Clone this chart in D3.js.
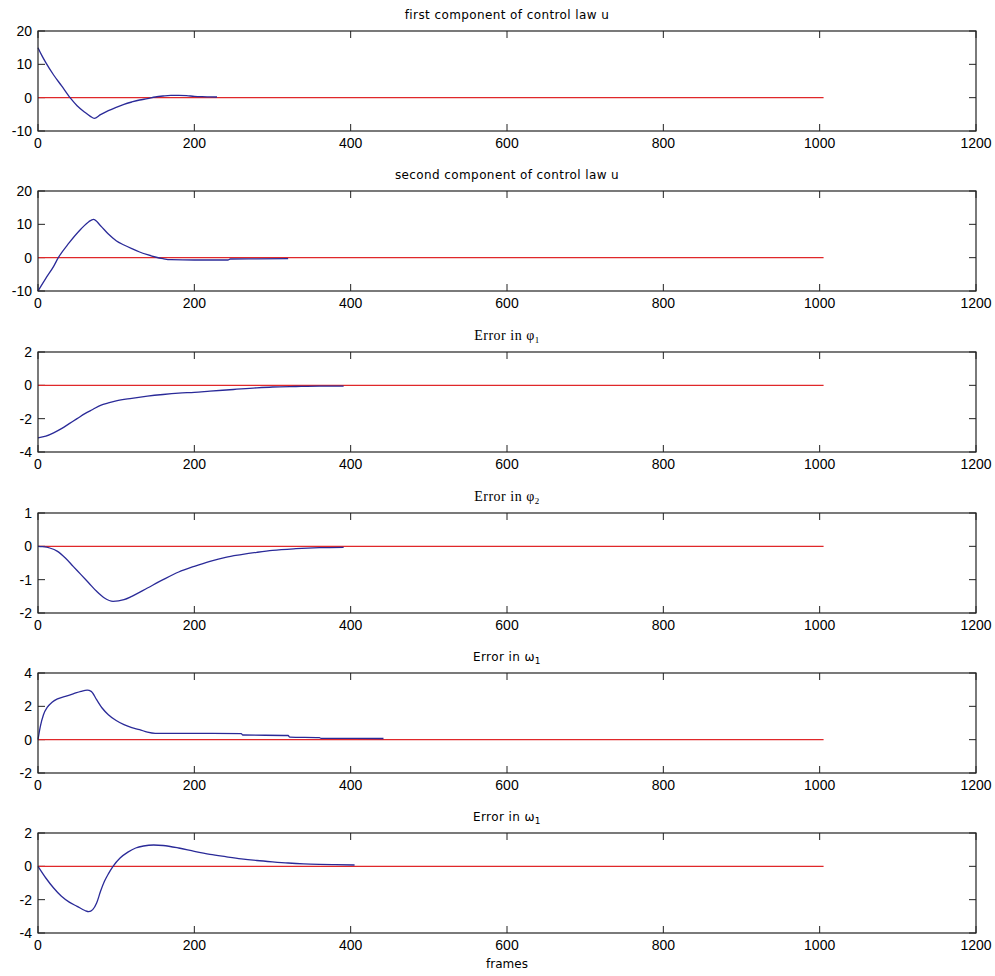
<!DOCTYPE html>
<html>
<head>
<meta charset="utf-8">
<script src="https://cdn.jsdelivr.net/npm/d3@7"></script>
<style>
  body { margin: 0; background: #fff; }
  svg text { fill: #000; }
</style>
</head>
<body>
<div id="chart"></div>
<script>
// DATA
const xTicks = [0, 200, 400, 600, 800, 1000, 1200];
const refLine = [[0, 0], [1005, 0]];

const u1 = [[0, 15], [5, 12.6], [10, 10.5], [20, 6.8], [30, 3.6], [41, 0], [50, -2.4], [60, -4.4],
  [67, -5.6], [72, -6.2], [80, -5.1], [90, -3.9], [100, -2.9], [110, -2.0], [120, -1.3], [130, -0.7],
  [140, -0.3], [150, 0.2], [160, 0.5], [170, 0.7], [180, 0.7], [190, 0.6], [200, 0.4], [210, 0.3],
  [220, 0.25], [229, 0.2]];
const u2 = [[0, -10], [10, -6.2], [20, -2.6], [26, 0], [40, 4.5], [55, 8.6], [65, 10.8], [71, 11.5],
  [80, 9.6], [90, 7.1], [100, 5.1], [110, 3.8], [120, 2.7], [130, 1.7], [140, 0.9], [150, 0.2],
  [160, -0.3], [170, -0.6], [200, -0.7], [243, -0.7], [246, -0.4], [280, -0.35], [320, -0.3]];
const phi1 = [[0, -3.15], [10, -3.05], [20, -2.85], [30, -2.6], [40, -2.3], [50, -2.0], [60, -1.7],
  [70, -1.45], [80, -1.2], [90, -1.05], [100, -0.93], [120, -0.78], [140, -0.65], [160, -0.55],
  [180, -0.47], [200, -0.42], [220, -0.35], [250, -0.25], [280, -0.15], [300, -0.1], [330, -0.07],
  [360, -0.05], [391, -0.05]];
const phi2 = [[0, 0], [5, -0.01], [15, -0.05], [25, -0.15], [35, -0.35], [45, -0.6], [55, -0.85],
  [65, -1.1], [75, -1.35], [85, -1.55], [96, -1.65], [110, -1.6], [120, -1.5], [140, -1.25],
  [160, -1.0], [180, -0.77], [200, -0.6], [220, -0.45], [240, -0.33], [260, -0.25], [280, -0.18],
  [300, -0.12], [330, -0.07], [360, -0.04], [391, -0.03]];
const omega1 = [[0, 0], [3, 0.8], [7, 1.5], [12, 1.95], [18, 2.25], [25, 2.45], [35, 2.6], [45, 2.75],
  [55, 2.9], [63, 2.97], [68, 2.9], [75, 2.4], [82, 1.9], [90, 1.5], [100, 1.15], [110, 0.9],
  [120, 0.72], [130, 0.6], [140, 0.45], [150, 0.38], [200, 0.38], [260, 0.36], [262, 0.28],
  [320, 0.25], [322, 0.15], [360, 0.12], [362, 0.08], [442, 0.07]];
const omega2 = [[0, 0], [10, -0.7], [20, -1.3], [30, -1.8], [40, -2.15], [50, -2.4], [60, -2.65],
  [65, -2.72], [70, -2.6], [75, -2.2], [80, -1.5], [85, -0.9], [90, -0.45], [96, 0], [105, 0.5],
  [115, 0.85], [125, 1.1], [135, 1.22], [148, 1.28], [160, 1.25], [180, 1.1], [200, 0.9],
  [220, 0.72], [240, 0.58], [260, 0.45], [280, 0.35], [300, 0.27], [320, 0.2], [340, 0.15],
  [360, 0.12], [380, 0.1], [405, 0.08]];

const titles = ['first component of control law u', 'second component of control law u',
  ['Error  in  φ', '1'], ['Error  in  φ', '2'], ['Error in ω', '1'], ['Error in ω', '1']];
const titleSerif = [false, false, true, true, false, false];
const series = [u1, u2, phi1, phi2, omega1, omega2];
const yDomains = [[-10, 20], [-10, 20], [-4, 2], [-2, 1], [-2, 4], [-4, 2]];
const yTicks = [[-10, 0, 10, 20], [-10, 0, 10, 20], [-4, -2, 0, 2], [-2, -1, 0, 1], [-2, 0, 2, 4], [-4, -2, 0, 2]];

// LAYOUT
const width = 995, height = 976;
const left = 38, right = 976, panelH = 100;
const tops = [31, 191, 352, 513, 673, 833];
const tickLen = 7;
const tickFont = '"Liberation Sans", Arial, sans-serif';
const sansTitle = '"DejaVu Sans", Verdana, sans-serif';
const serifTitle = '"Liberation Serif", "Times New Roman", serif';

const svg = d3.select('#chart').append('svg')
  .attr('width', width)
  .attr('height', height);

const x = d3.scaleLinear().domain([0, 1200]).range([left, right]);

series.forEach((data, i) => {
  const top = tops[i];
  const y = d3.scaleLinear().domain(yDomains[i]).range([top + panelH, top]);
  const g = svg.append('g');

  // ticks (inward, all four sides)
  xTicks.forEach(t => {
    g.append('line').attr('x1', x(t)).attr('x2', x(t))
      .attr('y1', top + panelH).attr('y2', top + panelH - tickLen)
      .attr('stroke', '#222');
    g.append('line').attr('x1', x(t)).attr('x2', x(t))
      .attr('y1', top).attr('y2', top + tickLen)
      .attr('stroke', '#222');
    g.append('text').attr('x', x(t)).attr('y', top + panelH + 17)
      .attr('text-anchor', 'middle').style('font-family', tickFont)
      .style('font-size', '14px').text(t);
  });
  yTicks[i].forEach(t => {
    g.append('line').attr('x1', left).attr('x2', left + tickLen)
      .attr('y1', y(t)).attr('y2', y(t)).attr('stroke', '#222');
    g.append('line').attr('x1', right).attr('x2', right - tickLen)
      .attr('y1', y(t)).attr('y2', y(t)).attr('stroke', '#222');
    g.append('text').attr('x', left - 6).attr('y', y(t) + 5)
      .attr('text-anchor', 'end').style('font-family', tickFont)
      .style('font-size', '14px').text(t);
  });

  const line = d3.line().x(d => x(d[0])).y(d => y(d[1])).curve(d3.curveMonotoneX);

  g.append('path').datum(refLine).attr('d', line)
    .attr('fill', 'none').attr('stroke', '#e0282a').attr('stroke-width', 1.2);
  g.append('path').datum(data).attr('d', line)
    .attr('fill', 'none').attr('stroke', '#2a2a98').attr('stroke-width', 1.3);

  g.append('rect').attr('x', left).attr('y', top)
    .attr('width', right - left).attr('height', panelH)
    .attr('fill', 'none').attr('stroke', '#222').attr('stroke-width', 1.2);

  // title
  const tt = titles[i];
  const title = g.append('text').attr('x', (left + right) / 2).attr('y', top - 12)
    .attr('text-anchor', 'middle')
    .style('font-family', titleSerif[i] ? serifTitle : sansTitle)
    .style('font-size', titleSerif[i] ? '14px' : '12px')
    .style('letter-spacing', titleSerif[i] ? '0.5px' : '0.4px');
  if (Array.isArray(tt)) {
    title.append('tspan').text(tt[0]);
    title.append('tspan').style('font-size', '9px').attr('dy', 3).text(tt[1]);
  } else {
    title.text(tt);
  }
});

svg.append('text').attr('x', (left + right) / 2).attr('y', tops[5] + panelH + 35)
  .attr('text-anchor', 'middle').style('font-family', sansTitle)
  .style('font-size', '12px').text('frames');
</script>
</body>
</html>
